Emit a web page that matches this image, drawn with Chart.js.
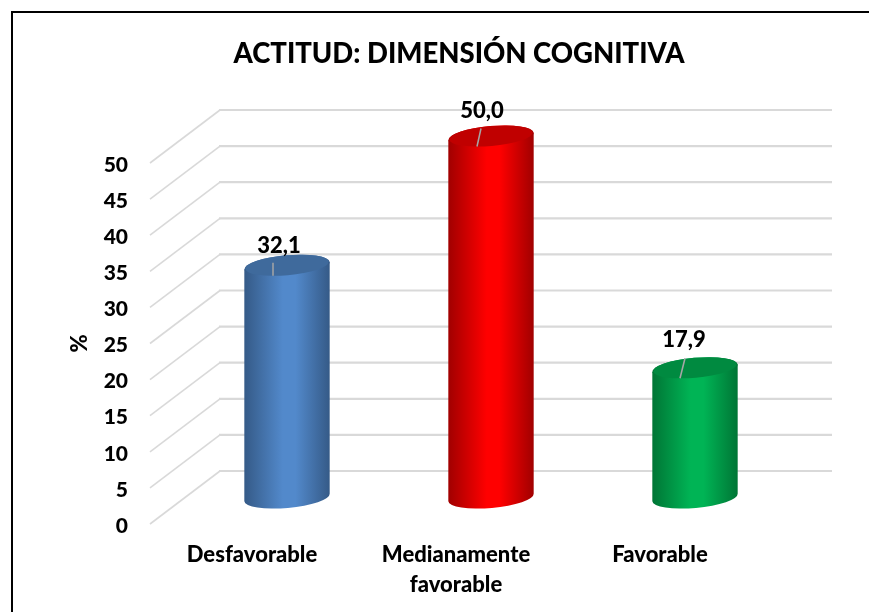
<!DOCTYPE html>
<html><head><meta charset="utf-8">
<style>html,body{margin:0;padding:0;background:#fff;overflow:hidden}canvas{display:block}</style>
<script src="https://cdn.jsdelivr.net/npm/chart.js@4"></script>
</head><body><canvas id="c" width="869" height="612"></canvas>
<script>
const categories = ["Desfavorable", ["Medianamente", "favorable"], "Favorable"];
const values = [32.1, 50.0, 17.9];
const chartTitle = "ACTITUD: DIMENSIÓN COGNITIVA";
const axisTitle = "%";
const yMin = 0, yMax = 50, yStep = 5;

const edgeColors = ["#355a87", "#a00000", "#007535"];
const midColors = ["#5289cb", "#ff0000", "#00b455"];
const capColors = ["#3f6a9c", "#c00000", "#008a40"];
const labelShift = [[-8, -20], [-9, -26], [-11, -28]];
const leaderFrom = [[-14, -3], [-10, -8], [-10, -10]];
const leaderTo = [[-14, 10], [-14, 10], [-15, 10]];
const FONT = "Lato, Carlito, Calibri, sans-serif";
const DEPTH_X = 70, DEPTH_Y = 53, WALL_RIGHT = 70;

const frame = { id: "frame", beforeDraw(c) {
  const g = c.ctx; g.save();
  g.fillStyle = "#fff"; g.fillRect(0, 0, c.width, c.height);
  g.strokeStyle = "#000"; g.lineWidth = 2;
  g.strokeRect(12, 12, c.width + 20, c.height + 20);
  g.restore();
}};
const titleBox = { id: "titleBox", afterLayout(c) {
  c.titleBlock.left = 49; c.titleBlock.right = c.width;
}};
const walls = { id: "walls", beforeDatasetsDraw(c) {
  const g = c.ctx, y = c.scales.y, a = c.chartArea;
  g.save(); g.strokeStyle = "#d9d9d9"; g.lineJoin = "miter";
  y.ticks.forEach(t => {
    const py = y.getPixelForValue(t.value);
    g.lineWidth = 1.6; g.beginPath();
    g.moveTo(a.left, py); g.lineTo(a.left + DEPTH_X, py - DEPTH_Y);
    g.stroke();
    g.lineWidth = 2.2; g.beginPath();
    g.moveTo(a.left + DEPTH_X - 1, py - DEPTH_Y); g.lineTo(a.right + WALL_RIGHT, py - DEPTH_Y);
    g.stroke();
  });
  g.restore();
}};
const cylinders = { id: "cylinders", afterDatasetsDraw(c) {
  const g = c.ctx, meta = c.getDatasetMeta(0);
  const rot = -5 * Math.PI / 180, ry = 10.5;
  meta.data.forEach((el, i) => {
    const cx = el.x + DEPTH_X / 2, top = el.y - DEPTH_Y / 2, bot = el.base - DEPTH_Y / 2;
    const rx = el.width / 2;
    const dx = rx * Math.cos(rot), dy = rx * Math.sin(rot);
    const grad = g.createLinearGradient(cx - rx, 0, cx + rx, 0);
    grad.addColorStop(0, edgeColors[i]);
    grad.addColorStop(0.45, midColors[i]);
    grad.addColorStop(0.6, midColors[i]);
    grad.addColorStop(1, edgeColors[i]);
    g.save();
    g.fillStyle = grad; g.beginPath();
    g.moveTo(cx - dx, top - dy);
    g.lineTo(cx - dx, bot - dy);
    g.ellipse(cx, bot, rx, ry, rot, Math.PI, 0, true);
    g.lineTo(cx + dx, top + dy);
    g.closePath(); g.fill();
    g.fillStyle = grad; g.beginPath();
    g.ellipse(cx, top, rx, ry, rot, 0, Math.PI * 2); g.fill();
    g.fillStyle = capColors[i]; g.beginPath();
    g.ellipse(cx, top - 0.5, rx - 1, ry - 0.5, rot, 0, Math.PI * 2); g.fill();
    g.strokeStyle = "#a6a6a6"; g.lineWidth = 1.5; g.beginPath();
    g.moveTo(cx + leaderFrom[i][0], top + leaderFrom[i][1]);
    g.lineTo(cx + leaderTo[i][0], top + leaderTo[i][1]); g.stroke();
    g.fillStyle = "#000"; g.font = "900 22px " + FONT;
    g.textAlign = "center"; g.textBaseline = "middle";
    g.fillText(values[i].toFixed(1).replace(".", ","), cx + labelShift[i][0], top + labelShift[i][1]);
    g.restore();
  });
}};

new Chart(document.getElementById("c"), {
  type: "bar",
  data: { labels: categories, datasets: [{ data: values, backgroundColor: "rgba(0,0,0,0)",
    barPercentage: 0.42, categoryPercentage: 1 }] },
  plugins: [frame, titleBox, walls, cylinders],
  options: {
    responsive: false, animation: false,
    layout: { padding: { left: 0, right: 107, top: 0, bottom: 0 } },
    plugins: {
      legend: { display: false }, tooltip: { enabled: false },
      title: { display: true, text: chartTitle, color: "#000",
        font: { family: FONT, size: 27.5, weight: "900" }, padding: { top: 38, bottom: 92 } }
    },
    scales: {
      x: { grid: { display: false }, border: { display: false },
        afterFit(s) { s.height = 88; },
        ticks: { color: "#000", font: { family: FONT, size: 22, weight: "900", lineHeight: 1.36 }, padding: 8, maxRotation: 0, autoSkip: false } },
      y: { min: yMin, max: yMax, grid: { display: false, drawTicks: false }, border: { display: false },
        afterFit(s) { s.width = 150; },
        title: { display: true, text: axisTitle, color: "#000", font: { family: FONT, size: 22, weight: "900" }, padding: { top: 67, bottom: 0 } },
        ticks: { stepSize: yStep, color: "#000", labelOffset: 2, font: { family: FONT, size: 21, weight: "900" }, padding: 22 } }
    }
  }
});
</script></body></html>
